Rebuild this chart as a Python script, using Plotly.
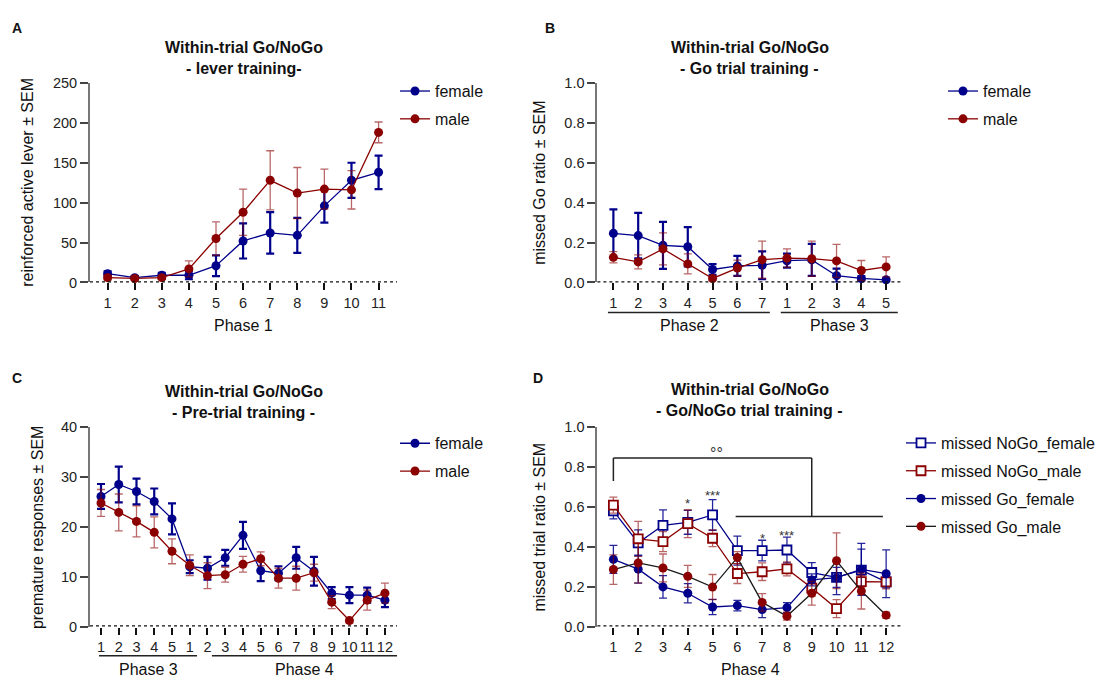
import plotly.graph_objects as go

W, H = 1101, 687
BLUE = "#00008B"
RED = "#8B0000"
BLUE_ERR = "rgba(0,0,139,0.85)"
RED_ERR = "rgba(139,0,0,0.6)"
FONT = "Arial, Liberation Sans, sans-serif"

# ---- Panel A: lever training (Phase 1) ----
sessions_a = list(range(1, 12))
female_a = [11, 6, 9, 9, 21, 52, 62, 59, 96, 128, 138]
female_a_sem = [3, 2, 3, 5, 13, 22, 26, 22, 21, 22, 21]
male_a = [6, 5, 6, 17, 55, 88, 128, 112, 117, 116, 188]
male_a_sem = [3, 2, 2, 10, 21, 29, 37, 32, 25, 24, 13]

# ---- Panel B: Go trial training (Phase 2 + Phase 3) ----
sessions_b = list(range(1, 13))
labels_b = ["1", "2", "3", "4", "5", "6", "7", "1", "2", "3", "4", "5"]
female_b = [0.246, 0.235, 0.186, 0.179, 0.065, 0.083, 0.086, 0.109, 0.113, 0.034, 0.020, 0.013]
female_b_sem = [0.12, 0.114, 0.118, 0.098, 0.027, 0.05, 0.07, 0.035, 0.08, 0.035, 0.01, 0.008]
male_b = [0.126, 0.103, 0.168, 0.093, 0.020, 0.072, 0.114, 0.122, 0.119, 0.108, 0.060, 0.078]
male_b_sem = [0.028, 0.035, 0.08, 0.05, 0.01, 0.04, 0.093, 0.046, 0.088, 0.083, 0.05, 0.05]

# ---- Panel C: pre-trial training (Phase 3 + Phase 4) ----
sessions_c = list(range(1, 18))
labels_c = ["1", "2", "3", "4", "5", "1", "2", "3", "4", "5", "6", "7", "8", "9", "10", "11", "12"]
female_c = [26.1, 28.5, 27.1, 25.1, 21.6, 12.0, 11.7, 13.8, 18.3, 11.2, 10.7, 13.8, 11.1, 6.7, 6.3, 6.3, 5.3]
female_c_sem = [2.5, 3.6, 2.6, 2.6, 3.1, 1.3, 2.3, 1.6, 2.7, 2.1, 1.4, 2.2, 2.9, 1.2, 1.6, 1.5, 1.4]
male_c = [24.8, 22.9, 21.1, 18.9, 15.1, 12.3, 10.2, 10.4, 12.5, 13.6, 9.7, 9.7, 10.8, 4.9, 1.2, 5.3, 6.7]
male_c_sem = [2.7, 3.7, 3.1, 3.1, 2.5, 2.1, 2.6, 1.5, 1.6, 1.4, 2.0, 2.4, 1.7, 1.3, 0.5, 2.0, 2.0]

# ---- Panel D: Go/NoGo trial training (Phase 4) ----
sessions_d = list(range(1, 13))
nogo_female = [0.58, 0.42, 0.508, 0.523, 0.56, 0.381, 0.381, 0.384, 0.271, 0.247, 0.283, 0.224]
nogo_female_sem = [0.04, 0.065, 0.077, 0.06, 0.077, 0.073, 0.052, 0.065, 0.05, 0.05, 0.105, 0.03]
nogo_male = [0.609, 0.44, 0.426, 0.516, 0.443, 0.266, 0.275, 0.289, 0.193, 0.09, 0.225, 0.224]
nogo_male_sem = [0.04, 0.088, 0.05, 0.07, 0.042, 0.05, 0.044, 0.035, 0.04, 0.045, 0.03, 0.035]
go_female = [0.337, 0.288, 0.199, 0.167, 0.098, 0.105, 0.085, 0.095, 0.234, 0.245, 0.287, 0.265]
go_female_sem = [0.07, 0.07, 0.056, 0.048, 0.038, 0.026, 0.04, 0.025, 0.03, 0.085, 0.13, 0.12]
go_male = [0.286, 0.319, 0.294, 0.252, 0.198, 0.346, 0.121, 0.052, 0.167, 0.33, 0.178, 0.057]
go_male_sem = [0.074, 0.1, 0.07, 0.055, 0.063, 0.03, 0.044, 0.02, 0.06, 0.14, 0.09, 0.015]

# significance marks in panel D: (session, height, text)
sig_x = [4, 5, 7, 8]
sig_y = [0.615, 0.656, 0.443, 0.455]
sig_text = ["*", "***", "*", "***"]


def px_x(p):
    return p / W


def px_y(p):
    return 1 - p / H


fig = go.Figure()


def series(x, y, sem, name, color, err_color, err_w, xa, ya, legend, symbol="circle",
           line_color=None, fill=None, group=None):
    fig.add_trace(go.Scatter(
        x=x, y=y, name=name, mode="lines+markers",
        xaxis=xa, yaxis=ya, legend=legend, legendgroup=group or (legend + name),
        line=dict(color=line_color or color, width=1.3),
        marker=dict(symbol=symbol, size=9, color=fill or color,
                    line=dict(color=color, width=1.8 if fill else 0)),
        error_y=dict(type="data", array=sem, visible=True, color=err_color,
                     thickness=err_w, width=4),
        cliponaxis=False,
    ))


series(sessions_a, female_a, female_a_sem, "female", BLUE, BLUE, 2.2, "x", "y", "legend")
series(sessions_a, male_a, male_a_sem, "male", RED, RED_ERR, 1.3, "x", "y", "legend")
series(sessions_b, female_b, female_b_sem, "female", BLUE, BLUE, 2.2, "x2", "y2", "legend2")
series(sessions_b, male_b, male_b_sem, "male", RED, RED_ERR, 1.3, "x2", "y2", "legend2")
series(sessions_c, female_c, female_c_sem, "female", BLUE, BLUE, 2.2, "x3", "y3", "legend3")
series(sessions_c, male_c, male_c_sem, "male", RED, RED_ERR, 1.3, "x3", "y3", "legend3")
series(sessions_d, nogo_female, nogo_female_sem, "missed NoGo_female", BLUE, BLUE_ERR, 1.3,
       "x4", "y4", "legend4", symbol="square", fill="white")
series(sessions_d, nogo_male, nogo_male_sem, "missed NoGo_male", RED, RED_ERR, 1.3,
       "x4", "y4", "legend4", symbol="square", fill="white")
series(sessions_d, go_female, go_female_sem, "missed Go_female", BLUE, BLUE_ERR, 1.3,
       "x4", "y4", "legend4")
series(sessions_d, go_male, go_male_sem, "missed Go_male", RED, RED_ERR, 1.3,
       "x4", "y4", "legend4", line_color="#1a1a1a")

# axis geometry (pixels)
dom_x_left = [px_x(90), px_x(397)]
dom_x_right = [px_x(597.4), px_x(902)]
dom_y_top = [px_y(281), px_y(76.7)]
dom_y_bot = [px_y(633.3), px_y(429.2)]

tickfont = dict(family=FONT, size=14.5, color="#222")


def xaxis(domain, anchor, rng, tickvals, ticktext):
    return dict(domain=domain, anchor=anchor, range=rng, showline=False, showgrid=False,
                zeroline=False, ticks="outside", ticklen=7, tickwidth=1.5, tickcolor="#111",
                tickvals=tickvals, ticktext=ticktext, tickfont=tickfont, fixedrange=True)


def yaxis(domain, anchor, rng, dtick, fmt):
    return dict(domain=domain, anchor=anchor, range=rng, showline=True, linecolor="#777",
                linewidth=2, showgrid=False, zeroline=False, ticks="outside", ticklen=8,
                tickwidth=1.5, tickcolor="#444", dtick=dtick, tick0=0, tickformat=fmt,
                tickfont=tickfont, fixedrange=True)


fig.update_layout(
    xaxis=xaxis(dom_x_left, "y", [0.35, 11.68], sessions_a, [str(s) for s in sessions_a]),
    yaxis=yaxis(dom_y_top, "x", [0, 250], 50, "d"),
    xaxis2=xaxis(dom_x_right, "y2", [0.355, 12.64], sessions_b, labels_b),
    yaxis2=yaxis(dom_y_top, "x2", [0, 1], 0.2, ".1f"),
    xaxis3=xaxis(dom_x_left, "y3", [0.38, 17.68], sessions_c, labels_c),
    yaxis3=yaxis(dom_y_bot, "x3", [0, 40], 10, "d"),
    xaxis4=xaxis(dom_x_right, "y4", [0.355, 12.64], sessions_d, [str(s) for s in sessions_d]),
    yaxis4=yaxis(dom_y_bot, "x4", [0, 1], 0.2, ".1f"),
)

legend_style = dict(font=dict(family=FONT, size=16, color="#111"), bgcolor="rgba(0,0,0,0)",
                    xanchor="left", yanchor="top", tracegroupgap=4, itemclick=False)
fig.update_layout(
    legend=dict(x=px_x(395), y=px_y(67.7), **legend_style),
    legend2=dict(x=px_x(943), y=px_y(67.7), **legend_style),
    legend3=dict(x=px_x(395), y=px_y(428.3), **legend_style),
    legend4=dict(x=px_x(901), y=px_y(428), **legend_style),
)

shapes = []
# dotted baseline at zero for each panel
for xa, ya in [("x", "y"), ("x2", "y2"), ("x3", "y3"), ("x4", "y4")]:
    shapes.append(dict(type="line", xref=f"{xa} domain", yref=ya, x0=0, x1=1, y0=0, y1=0,
                       line=dict(color="#111", width=2.5, dash="dot"), layer="above"))

# phase underlines
under = dict(type="line", yref="paper", line=dict(color="#222", width=1.5))
shapes += [
    dict(xref="x2", x0=0.78, x1=7.31, y0=px_y(311.7), y1=px_y(311.7), **under),
    dict(xref="x2", x0=7.75, x1=12.47, y0=px_y(311.7), y1=px_y(311.7), **under),
    dict(xref="x3", x0=0.89, x1=6.41, y0=px_y(663.3), y1=px_y(663.3), **under),
    dict(xref="x3", x0=7.25, x1=17.68, y0=px_y(663.3), y1=px_y(663.3), **under),
]

# comparison brackets in panel D
br = dict(type="line", xref="x4", yref="y4", line=dict(color="#222", width=1.5))
shapes += [
    dict(x0=1, x1=1, y0=0.73, y1=0.846, **br),
    dict(x0=1, x1=9, y0=0.846, y1=0.846, **br),
    dict(x0=9, x1=9, y0=0.846, y1=0.552, **br),
    dict(x0=5.93, x1=11.87, y0=0.552, y1=0.552, **br),
]
fig.update_layout(shapes=shapes)

ann = []


def text(x, y, s, size=16, bold=False, xref="paper", yref="paper", angle=0, color="#111"):
    ann.append(dict(x=x, y=y, xref=xref, yref=yref, text=f"<b>{s}</b>" if bold else s,
                    showarrow=False, textangle=angle, xanchor="center", yanchor="middle",
                    font=dict(family=FONT, size=size, color=color)))


# panel letters
text(px_x(17), px_y(20), "A", 14, True)
text(px_x(550), px_y(20), "B", 14, True)
text(px_x(17), px_y(379), "C", 14, True)
text(px_x(538), px_y(379), "D", 14, True)

# titles
for cx, y1, y2, sub in [(243.5, 40, 62, "- lever training-"),
                        (749.7, 40, 62, "- Go trial training -"),
                        (243.5, 393, 414.5, "- Pre-trial training -"),
                        (749.7, 391, 412, "- Go/NoGo trial training -")]:
    text(px_x(cx), px_y(y1), "Within-trial Go/NoGo", 16, True)
    text(px_x(cx), px_y(y2), sub, 16, True)

# axis titles
text(px_x(28), px_y(179), "reinforced active lever ± SEM", angle=-90)
text(px_x(540), px_y(179), "missed Go ratio ± SEM", angle=-90)
text(px_x(37), px_y(531.5), "premature responses ± SEM", angle=-90)
text(px_x(539.5), px_y(531.5), "missed trial ratio ± SEM", angle=-90)
text(px_x(243.5), px_y(325), "Phase 1")
text(4.05, px_y(325), "Phase 2", xref="x2")
text(10.11, px_y(325), "Phase 3", xref="x2")
text(3.65, px_y(677.5), "Phase 3", xref="x3")
text(12.46, px_y(677.5), "Phase 4", xref="x3")
text(px_x(750), px_y(677), "Phase 4")

# significance
text(5.17, 0.87, "°°", 16, xref="x4", yref="y4", color="#333")
for sx, sy, st in zip(sig_x, sig_y, sig_text):
    text(sx, sy, st, 13, xref="x4", yref="y4", color="#333")

fig.update_layout(annotations=ann, width=W, height=H, margin=dict(l=0, r=0, t=0, b=0),
                  paper_bgcolor="white", plot_bgcolor="white", showlegend=True,
                  font=dict(family=FONT))

fig.write_html("out.html", config={"displayModeBar": False})
